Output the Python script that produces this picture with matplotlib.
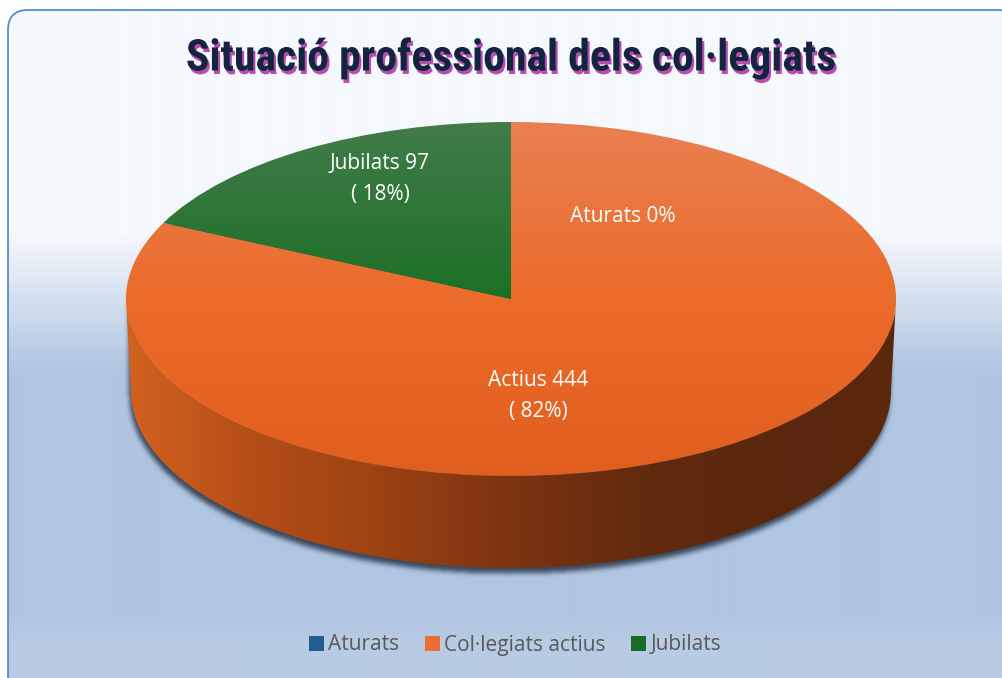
import numpy as np
import matplotlib
matplotlib.use("Agg")
import matplotlib.pyplot as plt
from matplotlib.patches import Wedge, Polygon, FancyBboxPatch, Patch
from matplotlib.transforms import Affine2D
from matplotlib.colors import to_rgb
import matplotlib.patheffects as pe

# data
categories = ["Aturats", "Col·legiats actius", "Jubilats"]
short_names = ["Aturats", "Actius", "Jubilats"]
values = [0, 444, 97]

# colours (top face gradient top->bottom, legend swatch)
legend_colors = ["#1f5f8b", "#ed6d32", "#176d23"]
top_stops = [
    ["#2a6b98", "#1f5f8b"],
    ["#e98052", "#ec6b2a", "#e05e1e"],
    ["#437c4a", "#1b7025", "#146a1d"],
]
side_stops_x = [126, 250, 370, 510, 650, 800, 896]
side_stops_c = ["#d2621f", "#b44e17", "#9e4313", "#7c3311", "#612a0e", "#59270d", "#5c280e"]

# layout in pixels
W, H = 1003, 678
cx, cy, rx, ry = 511, 299, 385, 177
depth = 92
rx_bot = 380
label_xy = [(623, 217), (538, 396), (380, 179)]

fig = plt.figure(figsize=(W / 100, H / 100), dpi=100, facecolor="white")
ax = fig.add_axes([0, 0, 1, 1])
ax.set_xlim(0, W)
ax.set_ylim(H, 0)
ax.axis("off")

# background gradient inside rounded frame
light = np.array(to_rgb("#f5f8fc"))
blue = np.array(to_rgb("#b0c5e1"))
blue2 = np.array(to_rgb("#b9cbe4"))
bg = np.zeros((H, 1, 3))
for y in range(H):
    if y < 235:
        c = light
    elif y < 370:
        t = (y - 235) / 135
        c = light * (1 - t) + blue * t
    elif y < 620:
        c = blue
    else:
        t = min((y - 620) / 20, 1)
        c = blue * (1 - t) + blue2 * t
    bg[y, 0] = c
frame = FancyBboxPatch((8, 10), 1010, 690, boxstyle="round,pad=0,rounding_size=20",
                       fc="none", ec="#5b8bc8", lw=1.3, zorder=10)
ax.add_patch(frame)
im = ax.imshow(bg, extent=(0, W, H, 0), aspect="auto", zorder=0, interpolation="bilinear")
im.set_clip_path(frame)

# transform from unit circle to screen ellipse
top_tr = Affine2D().scale(rx, -ry).translate(cx, cy) + ax.transData

# angles (Excel: start at 12 o'clock, clockwise)
total = sum(values)
angles = []
a = 90.0
for v in values:
    span = 360.0 * v / total
    angles.append((a - span, a))
    a -= span

# shadow under the pie
X, Y = np.meshgrid(np.arange(W), np.arange(H))
sx, sy = -2, 5
u = (X - cx - sx) / rx_bot
inside = np.abs(u) <= 1
half = ry * np.sqrt(np.clip(1 - u ** 2, 0, 1))
mask = inside & (Y >= cy + sy - half) & (Y <= cy + sy + depth + half)
m = mask.astype(float)

def box_blur(arr, r):
    k = 2 * r + 1
    p = np.pad(arr, ((0, 0), (r + 1, r)), mode="edge")
    c = np.cumsum(p, axis=1)
    arr = (c[:, k:] - c[:, :-k]) / k
    p = np.pad(arr, ((r + 1, r), (0, 0)), mode="edge")
    c = np.cumsum(p, axis=0)
    return (c[k:, :] - c[:-k, :]) / k

for _ in range(3):
    m = box_blur(m, 2)
shadow = np.zeros((H, W, 4))
shadow[..., :3] = to_rgb("#2b3a4e")
shadow[..., 3] = m * 0.9
ax.imshow(shadow, extent=(0, W, H, 0), aspect="auto", zorder=1)

# side of the cake (front half only)
def side_poly(t1, t2):
    lo, hi = max(t1, 180), min(t2, 360)
    if hi <= lo:
        return None
    t = np.radians(np.linspace(lo, hi, 200))
    top = np.column_stack([cx + rx * np.cos(t), cy - ry * np.sin(t)])
    bot = np.column_stack([cx + rx_bot * np.cos(t), cy + depth - ry * np.sin(t)])
    return np.vstack([top, bot[::-1]])

xs = np.arange(W)
side_img = np.zeros((1, W, 3))
for k in range(3):
    side_img[0, :, k] = np.interp(xs, side_stops_x, [to_rgb(c)[k] for c in side_stops_c])

for (t1, t2), v in zip(angles, values):
    if v == 0:
        continue
    parts = []
    lo = t1 % 360
    hi = lo + (t2 - t1)
    parts.append((lo, min(hi, 360)))
    if hi > 360:
        parts.append((0, hi - 360))
    for p1, p2 in parts:
        pts = side_poly(p1, p2)
        if pts is None:
            continue
        poly = Polygon(pts, closed=True, fc="none", ec="none", zorder=2)
        ax.add_patch(poly)
        s = ax.imshow(side_img, extent=(0, W, H, 0), aspect="auto", zorder=2)
        s.set_clip_path(poly)

# top face
for (t1, t2), v, stops in zip(angles, values, top_stops):
    if v == 0:
        continue
    w = Wedge((0, 0), 1, t1, t2, transform=top_tr, fc="none", ec="none", zorder=3)
    ax.add_patch(w)
    ys = np.linspace(cy - ry, cy + ry, 300)
    pos = np.linspace(cy - ry, cy + ry, len(stops))
    grad = np.zeros((300, 1, 3))
    for k in range(3):
        grad[:, 0, k] = np.interp(ys, pos, [to_rgb(c)[k] for c in stops])
    g = ax.imshow(grad, extent=(cx - rx - 2, cx + rx + 2, cy + ry + 2, cy - ry - 2),
                  aspect="auto", zorder=3, interpolation="bilinear")
    g.set_clip_path(w)

ax.set_xlim(0, W)
ax.set_ylim(H, 0)

# data labels
for name, v, (lx, ly) in zip(short_names, values, label_xy):
    pct = 100 * v / total
    if v == 0:
        txt = f"{name} {pct:.0f}%"
    else:
        txt = f"{name} {v}\n( {pct:.0f}%)"
    ax.text(lx, ly, txt, color="white", fontsize=15, ha="center", va="center",
            family=["Open Sans", "DejaVu Sans"], linespacing=1.6, zorder=5)

# title with purple shadow
ax.text(cx, 58, "Situació professional dels col·legiats", ha="center", va="center",
        fontsize=31.5, fontweight="black", color="#14233f",
        family=["Liberation Sans Narrow", "Roboto Condensed", "Roboto", "DejaVu Sans"], zorder=6,
        path_effects=[pe.withSimplePatchShadow(offset=(1.5, -2.5), shadow_rgbFace="#b03aa8", alpha=0.9)])

# legend
handles = [Patch(facecolor=c, edgecolor="none") for c in legend_colors]
fig.legend(handles, categories, loc="center", bbox_to_anchor=(515 / W, 1 - 645 / H), ncol=3,
           frameon=False, labelcolor="#595959", handlelength=0.75, handleheight=0.75,
           handletextpad=0.2, columnspacing=1.2, prop={"family": ["Open Sans", "DejaVu Sans"], "size": 15})

fig.savefig("out.png", dpi=100, facecolor="white")
